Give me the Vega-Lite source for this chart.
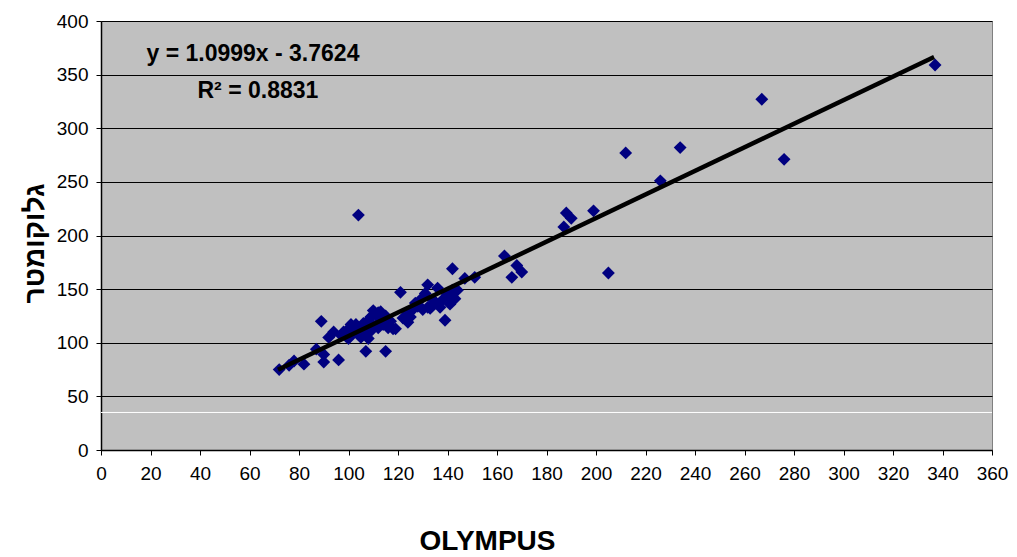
{
  "$schema": "https://vega.github.io/schema/vega-lite/v6.json",
  "width": 891,
  "height": 429,
  "autosize": {"type": "none"},
  "padding": {"left": 101, "top": 21, "right": 25, "bottom": 107},
  "background": "white",
  "datasets": {
    "points": [
      {"x": 72, "y": 75}, {"x": 76, "y": 79}, {"x": 78, "y": 83}, {"x": 82, "y": 80},
      {"x": 87, "y": 94}, {"x": 89, "y": 120}, {"x": 90, "y": 89}, {"x": 90, "y": 82},
      {"x": 92, "y": 105}, {"x": 94, "y": 110}, {"x": 96, "y": 84}, {"x": 97, "y": 107},
      {"x": 98, "y": 110}, {"x": 99, "y": 106}, {"x": 100, "y": 113}, {"x": 100, "y": 104},
      {"x": 101, "y": 117}, {"x": 102, "y": 109}, {"x": 102, "y": 113}, {"x": 103, "y": 117},
      {"x": 104, "y": 219}, {"x": 104, "y": 112}, {"x": 105, "y": 105}, {"x": 106, "y": 118},
      {"x": 106, "y": 109}, {"x": 107, "y": 92}, {"x": 107, "y": 113}, {"x": 108, "y": 104},
      {"x": 108, "y": 121}, {"x": 109, "y": 124}, {"x": 109, "y": 111}, {"x": 110, "y": 130},
      {"x": 110, "y": 116}, {"x": 111, "y": 126}, {"x": 112, "y": 128}, {"x": 112, "y": 114},
      {"x": 113, "y": 121}, {"x": 113, "y": 129}, {"x": 114, "y": 117}, {"x": 115, "y": 92},
      {"x": 115, "y": 125}, {"x": 116, "y": 114}, {"x": 117, "y": 120}, {"x": 118, "y": 113},
      {"x": 119, "y": 113}, {"x": 121, "y": 147}, {"x": 122, "y": 123}, {"x": 124, "y": 119},
      {"x": 124, "y": 127}, {"x": 125, "y": 124}, {"x": 126, "y": 131}, {"x": 127, "y": 137},
      {"x": 128, "y": 134}, {"x": 129, "y": 140}, {"x": 130, "y": 131}, {"x": 131, "y": 146},
      {"x": 132, "y": 154}, {"x": 132, "y": 133}, {"x": 133, "y": 132}, {"x": 134, "y": 140},
      {"x": 135, "y": 138}, {"x": 136, "y": 151}, {"x": 137, "y": 133}, {"x": 138, "y": 140},
      {"x": 139, "y": 121}, {"x": 140, "y": 145}, {"x": 141, "y": 136}, {"x": 142, "y": 169},
      {"x": 142, "y": 149}, {"x": 143, "y": 141}, {"x": 144, "y": 149}, {"x": 147, "y": 160},
      {"x": 151, "y": 161}, {"x": 163, "y": 181}, {"x": 166, "y": 161}, {"x": 168, "y": 172},
      {"x": 170, "y": 166}, {"x": 187, "y": 208}, {"x": 188, "y": 221}, {"x": 190, "y": 216},
      {"x": 199, "y": 223}, {"x": 205, "y": 165}, {"x": 212, "y": 277}, {"x": 226, "y": 251},
      {"x": 234, "y": 282}, {"x": 267, "y": 327}, {"x": 276, "y": 271}, {"x": 337, "y": 359}
    ],
    "trend": [
      {"x": 71.5, "y": 74.9},
      {"x": 336.6, "y": 366.5}
    ],
    "whiteline": [
      {"y": 35}
    ],
    "labels": [
      {"x": 61.4, "y": 369, "label": "y = 1.0999x  - 3.7624"},
      {"x": 63.4, "y": 334.7, "label": "R² = 0.8831"}
    ]
  },
  "config": {
    "view": {"fill": "#C0C0C0", "stroke": "#808080", "strokeWidth": 1},
    "axis": {
      "labelFont": "Liberation Sans",
      "labelFontSize": 19,
      "labelColor": "#000000",
      "tickColor": "#000000",
      "domainColor": "#000000",
      "tickSize": 5,
      "labelFlush": false,
      "labelOverlap": false,
      "titleFont": "Liberation Sans",
      "titleFontWeight": "bold",
      "titleColor": "#000000"
    }
  },
  "layer": [
    {
      "data": {"name": "whiteline"},
      "mark": {"type": "rule", "color": "#FFFFFF", "strokeWidth": 1},
      "encoding": {
        "y": {"field": "y", "type": "quantitative", "title": "גלוקומטר"}
      }
    },
    {
      "data": {"name": "points"},
      "mark": {"type": "point", "shape": "diamond", "filled": true, "color": "#000080", "size": 165, "opacity": 1},
      "encoding": {
        "x": {
          "field": "x", "type": "quantitative", "title": "OLYMPUS",
          "scale": {"domain": [0, 360], "nice": false},
          "axis": {
            "values": [0, 20, 40, 60, 80, 100, 120, 140, 160, 180, 200, 220, 240, 260, 280, 300, 320, 340, 360],
            "grid": false, "labelPadding": 9, "titleFontSize": 28, "titlePadding": 44, "titleX": 386, "domainWidth": 1.5
          }
        },
        "y": {
          "field": "y", "type": "quantitative", "title": "גלוקומטר",
          "scale": {"domain": [0, 400], "nice": false},
          "axis": {
            "values": [0, 50, 100, 150, 200, 250, 300, 350, 400],
            "grid": true, "gridColor": "#000000", "gridWidth": 1,
            "labelPadding": 8, "titleFontSize": 28, "titlePadding": 7, "titleY": 222, "domainWidth": 1.5
          }
        }
      }
    },
    {
      "data": {"name": "trend"},
      "mark": {"type": "line", "color": "#000000", "strokeWidth": 4.5},
      "encoding": {
        "x": {"field": "x", "type": "quantitative", "title": "OLYMPUS"},
        "y": {"field": "y", "type": "quantitative", "title": "גלוקומטר"}
      }
    },
    {
      "data": {"name": "labels"},
      "mark": {"type": "text", "font": "Liberation Sans", "fontWeight": "bold", "fontSize": 23, "color": "#000000", "align": "center", "baseline": "middle"},
      "encoding": {
        "x": {"field": "x", "type": "quantitative", "title": "OLYMPUS"},
        "y": {"field": "y", "type": "quantitative", "title": "גלוקומטר"},
        "text": {"field": "label"}
      }
    }
  ]
}
